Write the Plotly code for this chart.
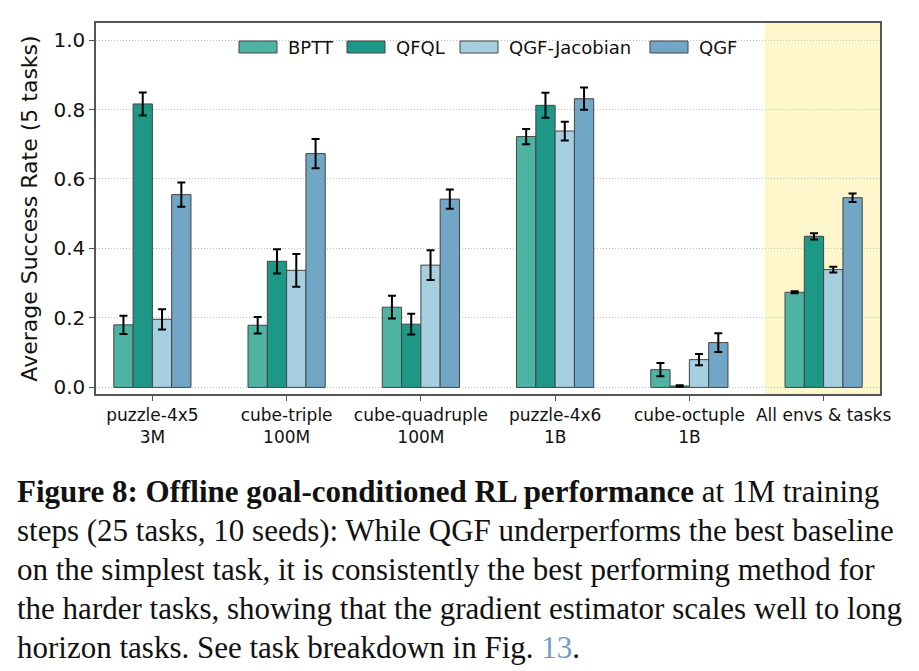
import plotly.graph_objects as go

# ---------------- data ----------------
categories = ["puzzle-4x5<br>3M", "cube-triple<br>100M", "cube-quadruple<br>100M",
              "puzzle-4x6<br>1B", "cube-octuple<br>1B", "All envs & tasks"]
methods = ["BPTT", "QFQL", "QGF-Jacobian", "QGF"]

bptt = [0.180, 0.179, 0.231, 0.722, 0.051, 0.274]
bptt_err = [0.026, 0.024, 0.033, 0.022, 0.019, 0.003]
qfql = [0.816, 0.363, 0.182, 0.812, 0.004, 0.435]
qfql_err = [0.033, 0.035, 0.030, 0.036, 0.002, 0.009]
qgfj = [0.196, 0.337, 0.352, 0.738, 0.080, 0.339]
qgfj_err = [0.029, 0.047, 0.043, 0.027, 0.016, 0.008]
qgf = [0.555, 0.673, 0.542, 0.831, 0.129, 0.546]
qgf_err = [0.035, 0.042, 0.028, 0.032, 0.027, 0.012]

ytick_vals = [0.0, 0.2, 0.4, 0.6, 0.8, 1.0]
ytick_text = ["0.0", "0.2", "0.4", "0.6", "0.8", "1.0"]

caption_lines = [
    "<b>Figure 8: Offline goal-conditioned RL performance</b> at 1M training",
    "steps (25 tasks, 10 seeds): While QGF underperforms the best baseline",
    "on the simplest task, it is consistently the best performing method for",
    "the harder tasks, showing that the gradient estimator scales well to long",
    "horizon tasks. See task breakdown in Fig. <span style='color:#6d9ec8'>13</span>.",
]

# ---------------- style ----------------
colors = ["#4fb3a3", "#1e9886", "#a6cfe0", "#71a6c6"]
edge = "#444444"
W, H = 919, 671
L, R, T, B = 96, 39, 23, 277
plot_h = H - T - B

x = list(range(len(categories)))
values = [bptt, qfql, qgfj, qgf]
errors = [bptt_err, qfql_err, qgfj_err, qgf_err]

fig = go.Figure()
for name, vals, errs, col in zip(methods, values, errors, colors):
    fig.add_trace(go.Bar(
        x=x, y=vals, name=name, showlegend=False,
        marker=dict(color=col, line=dict(color=edge, width=1)),
        error_y=dict(type="data", array=errs, color="black", thickness=2, width=4),
    ))

# highlighted region for the aggregate group
fig.add_shape(type="rect", xref="x", yref="paper", x0=4.56, x1=5.42, y0=0, y1=1,
              fillcolor="#fff7cc", line=dict(width=0), layer="below")

# custom legend
def py(px):
    return (H - B - px) / plot_h

def pxx(px):
    return (px - L) / (W - L - R)

leg_x0 = [239, 347, 460, 650]
for name, col, lx in zip(methods, colors, leg_x0):
    fig.add_shape(type="rect", xref="paper", yref="paper",
                  x0=pxx(lx), x1=pxx(lx + 38), y0=py(53), y1=py(41),
                  fillcolor=col, line=dict(color=edge, width=1), layer="above")
    fig.add_annotation(xref="paper", yref="paper", x=pxx(lx + 47), y=py(47),
                       text=name, showarrow=False, xanchor="left", yanchor="middle",
                       font=dict(family="DejaVu Sans", size=18, color="#111"))

# caption
for i, line in enumerate(caption_lines):
    fig.add_annotation(xref="paper", yref="paper", x=pxx(15), y=py(491 + 39 * i),
                       text=line, showarrow=False, xanchor="left", yanchor="middle",
                       align="left",
                       font=dict(family="Liberation Serif", size=31, color="#111"))

fig.update_layout(
    width=W, height=H,
    margin=dict(l=L, r=R, t=T, b=B),
    paper_bgcolor="white", plot_bgcolor="white",
    barmode="group", bargap=0.425, bargroupgap=0,
    font=dict(family="DejaVu Sans", color="#111"),
)
fig.update_xaxes(
    range=[-0.42, 5.42], tickvals=x, ticktext=categories,
    tickfont=dict(size=17), showgrid=False, zeroline=False,
    showline=True, mirror=True, linecolor="#555", linewidth=1.5,
    ticks="outside", ticklen=5, tickwidth=1.2, tickcolor="#555",
)
fig.update_yaxes(
    range=[-0.019, 1.049], tickvals=ytick_vals, ticktext=ytick_text,
    tickfont=dict(size=20), showgrid=True, gridcolor="#c0c0c0", griddash="1px,2px",
    gridwidth=1, zeroline=False,
    showline=True, mirror=True, linecolor="#555", linewidth=1.5,
    ticks="outside", ticklen=5, tickwidth=1.2, tickcolor="#555",
    title=dict(text="Average Success Rate (5 tasks)", font=dict(size=22), standoff=10),
)

fig.write_html("out.html")
